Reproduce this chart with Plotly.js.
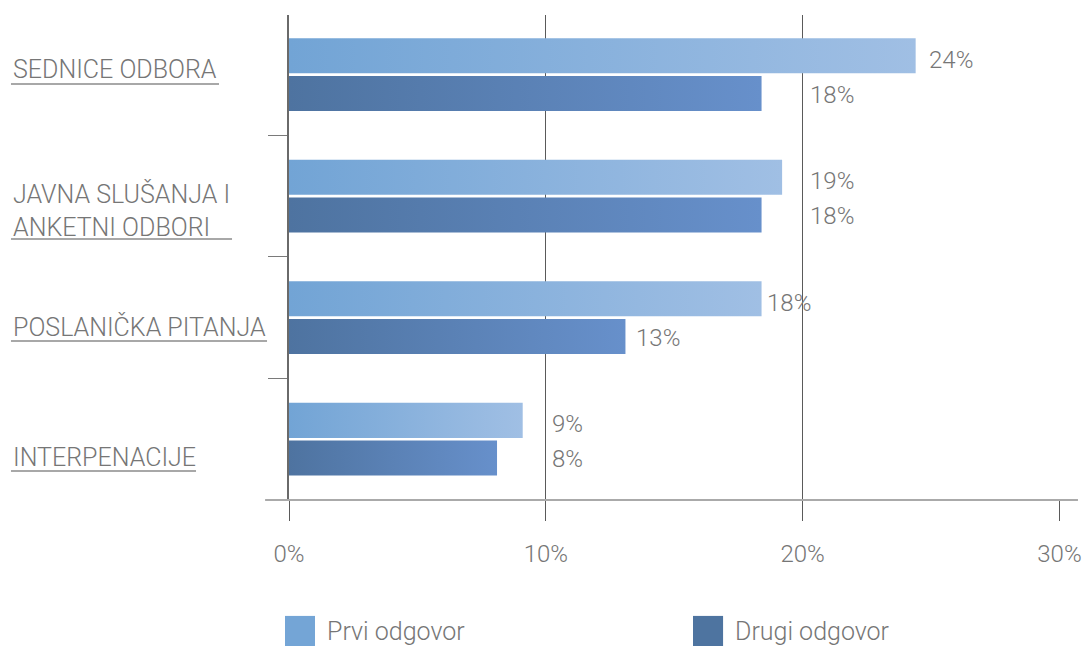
<!DOCTYPE html>
<html>
<head>
<meta charset="utf-8">
<script src="https://cdn.plot.ly/plotly-3.0.1.min.js"></script>
<style>html,body{margin:0;padding:0;background:#fff;}#chart{width:1086px;height:646px;}</style>
</head>
<body>
<div id="chart"></div>
<script>
// ---- data ----
var categories = ['SEDNICE ODBORA', 'JAVNA SLUŠANJA I ANKETNI ODBORI', 'POSLANIČKA PITANJA', 'INTERPENACIJE'];
var categoryLabels = ['SEDNICE ODBORA', 'JAVNA SLUŠANJA I<br>ANKETNI ODBORI', 'POSLANIČKA PITANJA', 'INTERPENACIJE'];
var prviOdgovor = [24.4, 19.2, 18.4, 9.1];
var drugiOdgovor = [18.4, 18.4, 13.1, 8.1];
var seriesNames = ['Prvi odgovor', 'Drugi odgovor'];
var xTickVals = [0, 10, 20, 30];
var xTickText = ['0%', '10%', '20%', '30%'];

// ---- styling / layout ----
var FONT = 'Roboto, "Open Sans", sans-serif';
var TXT = '#767676';
var lightCol = '#74a5d6', darkCol = '#4e74a0';

var traces = [
  {type:'bar', orientation:'h', name:seriesNames[0], y:categories, x:prviOdgovor,
   marker:{color:lightCol}, hoverinfo:'none', showlegend:false},
  {type:'bar', orientation:'h', name:seriesNames[1], y:categories, x:drugiOdgovor,
   marker:{color:darkCol}, hoverinfo:'none', showlegend:false}
];

// label positions (text placement, in axis units)
var prviLabelX = [24.85, 20.2, 18.55, 10.15];
var drugiLabelX = [20.2, 20.2, 13.45, 10.15];
var catShift = [5, -14, -9, -18];

var annotations = [];
categories.forEach(function(c, i){
  annotations.push({xref:'x', yref:'y', x:prviLabelX[i], y:i, yshift:15, xanchor:'left', yanchor:'middle',
    text: Math.round(prviOdgovor[i]) + '%', showarrow:false,
    font:{family:FONT, size:24, color:TXT, weight:300}});
  annotations.push({xref:'x', yref:'y', x:drugiLabelX[i], y:i, yshift:-20, xanchor:'left', yanchor:'middle',
    text: Math.round(drugiOdgovor[i]) + '%', showarrow:false,
    font:{family:FONT, size:24, color:TXT, weight:300}});
  annotations.push({xref:'paper', yref:'y', x:-0.3606, y:i, yshift:catShift[i], xanchor:'left', yanchor:'middle',
    align:'left', text: categoryLabels[i], showarrow:false,
    font:{family:FONT, size:25, color:TXT, weight:300}});
});
// legend texts
annotations.push({xref:'paper', yref:'paper', x:0.0467, y:-0.272, xanchor:'left', yanchor:'middle', showarrow:false,
  text:seriesNames[0], font:{family:FONT, size:25, color:TXT, weight:300}});
annotations.push({xref:'paper', yref:'paper', x:0.576, y:-0.272, xanchor:'left', yanchor:'middle', showarrow:false,
  text:seriesNames[1], font:{family:FONT, size:25, color:TXT, weight:300}});

var underline = {color:'#a8a8a8', width:2};
var shapes = [
  // horizontal axis line
  {type:'line', xref:'paper', yref:'paper', x0:-0.031, x1:1.0233, y0:0, y1:0, line:{color:'#aaaaaa', width:2}},
  // category underlines
  {type:'line', xref:'paper', yref:'paper', x0:-0.3606, x1:-0.0908, y0:0.8577, y1:0.8577, line:underline},
  {type:'line', xref:'paper', yref:'paper', x0:-0.3606, x1:-0.0739, y0:0.538, y1:0.538, line:underline},
  {type:'line', xref:'paper', yref:'paper', x0:-0.3606, x1:-0.0285, y0:0.3278, y1:0.3278, line:underline},
  {type:'line', xref:'paper', yref:'paper', x0:-0.3606, x1:-0.1206, y0:0.0598, y1:0.0598, line:underline},
  // legend swatches
  {type:'rect', xref:'paper', yref:'paper', x0:-0.0052, x1:0.0337, y0:-0.301, y1:-0.239, line:{width:0}, fillcolor:lightCol},
  {type:'rect', xref:'paper', yref:'paper', x0:0.524, x1:0.563, y0:-0.301, y1:-0.239, line:{width:0}, fillcolor:darkCol}
];

var layout = {
  width:1086, height:646,
  margin:{l:289, r:26, t:15, b:146},
  paper_bgcolor:'#ffffff', plot_bgcolor:'#ffffff',
  barmode:'group', bargap:0.38, bargroupgap:0.07,
  font:{family:FONT, color:TXT, weight:300},
  xaxis:{range:[0, 30.02], tickvals:xTickVals, ticktext:xTickText, showgrid:true, gridcolor:'#5a5a5a', gridwidth:1,
    ticks:'outside', ticklen:20, tickcolor:'#5a5a5a', tickwidth:1, zeroline:false, showline:false,
    ticklabelstandoff:12, tickfont:{family:FONT, size:24, color:TXT, weight:300}, fixedrange:true},
  yaxis:{type:'category', categoryorder:'array', categoryarray:categories, range:[3.5, -0.49],
    showticklabels:false, showgrid:false, zeroline:false, showline:true, linecolor:'#6a6a6a', linewidth:2,
    ticks:'outside', tickson:'boundaries', ticklen:19, tickcolor:'#7a7a7a', tickwidth:1, fixedrange:true},
  annotations:annotations, shapes:shapes, showlegend:false
};

Plotly.newPlot('chart', traces, layout, {displayModeBar:false, staticPlot:true}).then(function(gd){
  // horizontal gradient on each bar
  var svg = gd.querySelector('svg.main-svg');
  var ns = 'http://www.w3.org/2000/svg';
  var defs = document.createElementNS(ns, 'defs');
  function grad(id, c0, c1){
    var g = document.createElementNS(ns, 'linearGradient');
    g.setAttribute('id', id); g.setAttribute('x1','0'); g.setAttribute('x2','1'); g.setAttribute('y1','0'); g.setAttribute('y2','0');
    [[0,c0],[1,c1]].forEach(function(s){
      var st = document.createElementNS(ns, 'stop');
      st.setAttribute('offset', s[0]); st.setAttribute('stop-color', s[1]); g.appendChild(st);
    });
    defs.appendChild(g);
  }
  grad('gradPrvi', '#72a4d5', '#a0bfe4');
  grad('gradDrugi', '#4e73a0', '#6790cb');
  svg.insertBefore(defs, svg.firstChild);
  var barTraces = gd.querySelectorAll('g.trace.bars');
  barTraces.forEach(function(t, ti){
    t.querySelectorAll('path').forEach(function(p){
      p.style.fill = ti === 0 ? 'url(#gradPrvi)' : 'url(#gradDrugi)';
    });
  });
});
</script>
</body>
</html>
